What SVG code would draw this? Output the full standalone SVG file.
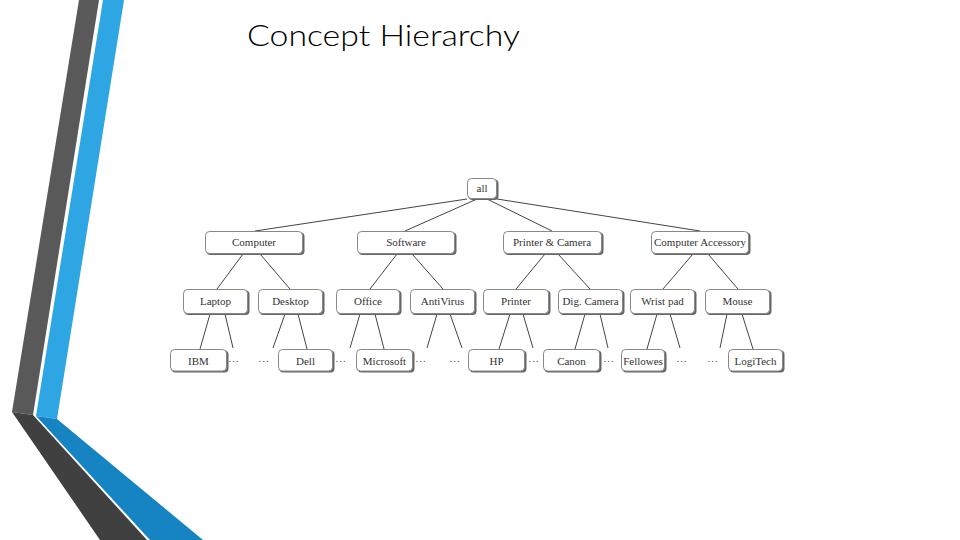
<svg xmlns="http://www.w3.org/2000/svg" width="960" height="540" viewBox="0 0 960 540">
<style>
.bx{fill:#fff;stroke:#888;stroke-width:1}
.sh{fill:#666}
.t{font-family:"Liberation Serif","Times New Roman",serif;font-size:11px;fill:#333;text-anchor:middle}
.e{font-family:"Liberation Serif","Times New Roman",serif;font-size:11px;fill:#555;text-anchor:middle;letter-spacing:1px}
.c line{stroke:#444;stroke-width:1}
</style>
<rect width="960" height="540" fill="#fff"/>
<g id="decor">
<polygon points="79,0 99,0 33,415 12,412" fill="#595959"/>
<polygon points="103,0 124,0 57,419 36,416" fill="#2ea6e4"/>
<polygon points="12,412 33,415 147,540 100,540" fill="#404040"/>
<polygon points="36,416 57,419 203,540 150,540" fill="#1683c2"/>
</g>
<text x="247" y="46" font-family="Lato,'Open Sans',sans-serif" font-weight="300" font-size="30" fill="#000" textLength="273" lengthAdjust="spacingAndGlyphs">Concept Hierarchy</text>
<g class="c" id="connectors">
<line x1="467" y1="199" x2="255" y2="231"/>
<line x1="477" y1="199" x2="405" y2="231"/>
<line x1="487" y1="199" x2="552" y2="231"/>
<line x1="497" y1="199" x2="700" y2="231"/>
<line x1="243" y1="254" x2="217" y2="289"/>
<line x1="260" y1="254" x2="290" y2="289"/>
<line x1="397" y1="254" x2="370" y2="289"/>
<line x1="412" y1="254" x2="443" y2="289"/>
<line x1="545" y1="254" x2="516" y2="289"/>
<line x1="558" y1="254" x2="590" y2="289"/>
<line x1="693" y1="254" x2="663" y2="289"/>
<line x1="708" y1="254" x2="738" y2="289"/>
<line x1="210" y1="314" x2="200" y2="349"/>
<line x1="225" y1="314" x2="233" y2="348"/>
<line x1="285" y1="314" x2="273" y2="348"/>
<line x1="298" y1="314" x2="307" y2="349"/>
<line x1="360" y1="314" x2="350" y2="348"/>
<line x1="375" y1="314" x2="384" y2="349"/>
<line x1="437" y1="314" x2="427" y2="348"/>
<line x1="450" y1="314" x2="462" y2="348"/>
<line x1="510" y1="314" x2="499" y2="349"/>
<line x1="523" y1="314" x2="533" y2="348"/>
<line x1="585" y1="314" x2="575" y2="349"/>
<line x1="600" y1="314" x2="608" y2="348"/>
<line x1="657" y1="314" x2="647" y2="349"/>
<line x1="670" y1="314" x2="680" y2="348"/>
<line x1="727" y1="314" x2="720" y2="348"/>
<line x1="742" y1="314" x2="753" y2="349"/>
</g>
<g id="n-all"><rect class="sh" x="468.5" y="179.5" width="30" height="20.5" rx="4"/><rect class="bx" x="467.5" y="178.5" width="29" height="20" rx="4"/><text class="t" x="482" y="192">all</text></g>
<g id="n-computer"><rect class="sh" x="206.5" y="232.5" width="98" height="22.5" rx="4"/><rect class="bx" x="205.5" y="231.5" width="97" height="22" rx="4"/><text class="t" x="254" y="246">Computer</text></g>
<g id="n-software"><rect class="sh" x="358.5" y="232.5" width="98" height="22.5" rx="4"/><rect class="bx" x="357.5" y="231.5" width="97" height="22" rx="4"/><text class="t" x="406" y="246">Software</text></g>
<g id="n-printercamera"><rect class="sh" x="504.5" y="232.5" width="99" height="22.5" rx="4"/><rect class="bx" x="503.5" y="231.5" width="98" height="22" rx="4"/><text class="t" x="552" y="246">Printer &amp; Camera</text></g>
<g id="n-accessory"><rect class="sh" x="652.5" y="232.5" width="98" height="22.5" rx="4"/><rect class="bx" x="651.5" y="231.5" width="97" height="22" rx="4"/><text class="t" x="700" y="246">Computer Accessory</text></g>
<g id="n-laptop"><rect class="sh" x="184.5" y="290.5" width="65" height="24.5" rx="4"/><rect class="bx" x="183.5" y="289.5" width="64" height="24" rx="4"/><text class="t" x="215.5" y="305">Laptop</text></g>
<g id="n-desktop"><rect class="sh" x="259.5" y="290.5" width="65" height="24.5" rx="4"/><rect class="bx" x="258.5" y="289.5" width="64" height="24" rx="4"/><text class="t" x="290.5" y="305">Desktop</text></g>
<g id="n-office"><rect class="sh" x="337.5" y="290.5" width="64" height="24.5" rx="4"/><rect class="bx" x="336.5" y="289.5" width="63" height="24" rx="4"/><text class="t" x="368" y="305">Office</text></g>
<g id="n-antivirus"><rect class="sh" x="411.5" y="290.5" width="65" height="24.5" rx="4"/><rect class="bx" x="410.5" y="289.5" width="64" height="24" rx="4"/><text class="t" x="442.5" y="305">AntiVirus</text></g>
<g id="n-printer"><rect class="sh" x="484.5" y="290.5" width="66" height="24.5" rx="4"/><rect class="bx" x="483.5" y="289.5" width="65" height="24" rx="4"/><text class="t" x="516" y="305">Printer</text></g>
<g id="n-digcamera"><rect class="sh" x="559.5" y="290.5" width="65" height="24.5" rx="4"/><rect class="bx" x="558.5" y="289.5" width="64" height="24" rx="4"/><text class="t" x="590.5" y="305">Dig. Camera</text></g>
<g id="n-wristpad"><rect class="sh" x="631.5" y="290.5" width="65" height="24.5" rx="4"/><rect class="bx" x="630.5" y="289.5" width="64" height="24" rx="4"/><text class="t" x="662.5" y="305">Wrist pad</text></g>
<g id="n-mouse"><rect class="sh" x="706.5" y="290.5" width="65" height="24.5" rx="4"/><rect class="bx" x="705.5" y="289.5" width="64" height="24" rx="4"/><text class="t" x="737.5" y="305">Mouse</text></g>
<g id="n-ibm"><rect class="sh" x="171.5" y="350.5" width="57" height="22" rx="4"/><rect class="bx" x="170.5" y="349.5" width="56" height="21.5" rx="4"/><text class="t" x="198.5" y="364.5">IBM</text></g>
<g id="n-dell"><rect class="sh" x="279.5" y="350.5" width="55" height="22" rx="4"/><rect class="bx" x="278.5" y="349.5" width="54" height="21.5" rx="4"/><text class="t" x="305.5" y="364.5">Dell</text></g>
<g id="n-microsoft"><rect class="sh" x="357.5" y="350.5" width="57" height="22" rx="4"/><rect class="bx" x="356.5" y="349.5" width="56" height="21.5" rx="4"/><text class="t" x="384.5" y="364.5">Microsoft</text></g>
<g id="n-hp"><rect class="sh" x="469.5" y="350.5" width="57" height="22" rx="4"/><rect class="bx" x="468.5" y="349.5" width="56" height="21.5" rx="4"/><text class="t" x="496.5" y="364.5">HP</text></g>
<g id="n-canon"><rect class="sh" x="544.5" y="350.5" width="57" height="22" rx="4"/><rect class="bx" x="543.5" y="349.5" width="56" height="21.5" rx="4"/><text class="t" x="571.5" y="364.5">Canon</text></g>
<g id="n-fellowes"><rect class="sh" x="622.5" y="350.5" width="44" height="22" rx="4"/><rect class="bx" x="621.5" y="349.5" width="43" height="21.5" rx="4"/><text class="t" x="643" y="364.5">Fellowes</text></g>
<g id="n-logitech"><rect class="sh" x="729.5" y="350.5" width="55" height="22" rx="4"/><rect class="bx" x="728.5" y="349.5" width="54" height="21.5" rx="4"/><text class="t" x="755.5" y="364.5">LogiTech</text></g>
<g id="ellipses">
<text class="e" x="234" y="362">...</text>
<text class="e" x="264" y="362">...</text>
<text class="e" x="341" y="362">...</text>
<text class="e" x="421" y="362">...</text>
<text class="e" x="455" y="362">...</text>
<text class="e" x="534" y="362">...</text>
<text class="e" x="609" y="362">...</text>
<text class="e" x="682" y="362">...</text>
<text class="e" x="713" y="362">...</text>
</g>
</svg>
